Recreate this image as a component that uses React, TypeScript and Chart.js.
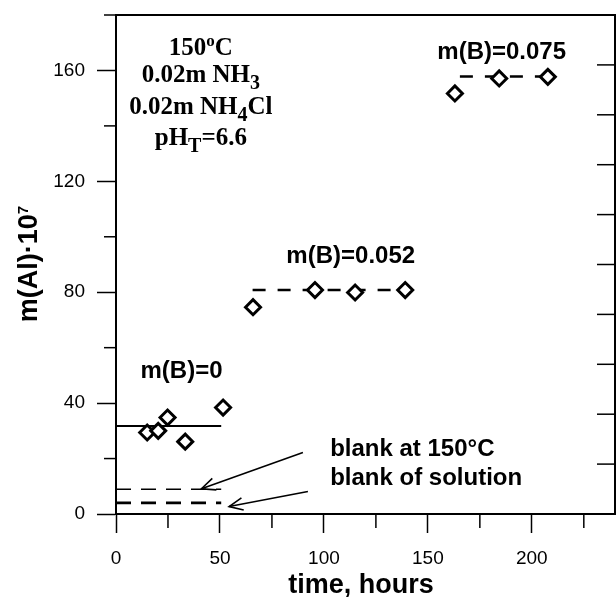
import React, { useEffect, useRef } from "react";
import { Chart, registerables } from "chart.js";

Chart.register(...registerables);

// ---- data (time in hours, m(Al)·10^7) ----
const groupZeroTime = [15, 20.3, 24.8, 33.3, 51.5];
const groupZeroAl = [29.4, 30.0, 34.8, 26.1, 38.4];
const group052Time = [65.9, 95.7, 115, 139.1];
const group052Al = [74.6, 80.8, 79.9, 80.8];
const group075Time = [163, 184.3, 207.7];
const group075Al = [151.7, 157.1, 157.7];

const meanZeroTime = [0, 50.6];
const meanZeroAl = [31.7, 31.7];
const blank150Time = [0, 50.6];
const blank150Al = [8.9, 8.9];
const blankSolTime = [0, 50.6];
const blankSolAl = [4.0, 4.0];
const mean052Time = [65.7, 142];
const mean052Al = [80.8, 80.8];
const mean075Time = [165.4, 208];
const mean075Al = [157.8, 157.8];

const arrow150From = [89.9, 22.2];
const arrow150To = [41.1, 9.1];
const arrowSolFrom = [92.3, 8.1];
const arrowSolTo = [54.4, 2.7];

const xTicks = [0, 50, 100, 150, 200];
const xMinorTicks = [25, 75, 125, 175, 225];
const yTicks = [0, 40, 80, 120, 160];
const yMinorTicks = [20, 60, 100, 140, 180];
const rightTicks = [1, 2, 3, 4, 5, 6, 7, 8, 9];

const xTitle = "time, hours";
const yTitleMain = "m(Al)·10";
const yTitleSup = "7";

const pts = (xs: number[], ys: number[]) => xs.map((x, i) => ({ x, y: ys[i] }));

const SANS = '"Liberation Sans", Arial, sans-serif';
const SERIF = '"Liberation Serif", "Times New Roman", serif';

type Seg = { text: string; mode?: "sub" | "sup" };

function drawRich(
  ctx: CanvasRenderingContext2D,
  segs: Seg[],
  cx: number,
  baseline: number,
  baseFont: string,
  smallFont: string,
  subDy: number,
  supDy: number
) {
  const widths: number[] = [];
  let total = 0;
  segs.forEach((s) => {
    ctx.font = s.mode ? smallFont : baseFont;
    const w = ctx.measureText(s.text).width;
    widths.push(w);
    total += w;
  });
  let x = cx - total / 2;
  ctx.textAlign = "left";
  ctx.textBaseline = "alphabetic";
  segs.forEach((s, i) => {
    ctx.font = s.mode ? smallFont : baseFont;
    const dy = s.mode === "sub" ? subDy : s.mode === "sup" ? supDy : 0;
    ctx.fillText(s.text, x, baseline + dy);
    x += widths[i];
  });
}

const zeroPad = (s: any) => {
  s.paddingTop = 0;
  s.paddingBottom = 0;
  s.paddingLeft = 0;
  s.paddingRight = 0;
};

const decorPlugin = {
  id: "decor",
  afterDraw(chart: any) {
    const ctx: CanvasRenderingContext2D = chart.ctx;
    const xs = chart.scales.x;
    const ys = chart.scales.y;
    const y2 = chart.scales.y2;
    const ca = chart.chartArea;
    const line = (x1: number, y1: number, x2: number, y2_: number) => {
      ctx.beginPath();
      ctx.moveTo(x1, y1);
      ctx.lineTo(x2, y2_);
      ctx.stroke();
    };
    ctx.save();
    ctx.strokeStyle = "#000";
    ctx.fillStyle = "#000";
    ctx.lineCap = "butt";

    // top frame
    ctx.lineWidth = 2;
    line(ca.left, ca.top, ca.right + 1, ca.top);

    // minor ticks
    ctx.lineWidth = 1.5;
    xMinorTicks.forEach((v) => {
      const px = xs.getPixelForValue(v);
      line(px, ca.bottom, px, ca.bottom + 14);
    });
    yMinorTicks.forEach((v) => {
      const py = ys.getPixelForValue(v);
      line(ca.left - 12, py, ca.left, py);
    });
    rightTicks.forEach((v) => {
      const py = y2.getPixelForValue(v);
      line(ca.right - 18, py, ca.right, py);
    });

    // arrows
    const arrow = (from: number[], to: number[]) => {
      const x1 = xs.getPixelForValue(from[0]);
      const y1 = ys.getPixelForValue(from[1]);
      const x2 = xs.getPixelForValue(to[0]);
      const yy2 = ys.getPixelForValue(to[1]);
      ctx.lineWidth = 1.6;
      line(x1, y1, x2, yy2);
      const ang = Math.atan2(yy2 - y1, x2 - x1);
      const hl = 15;
      const spread = (24 * Math.PI) / 180;
      ctx.beginPath();
      ctx.moveTo(x2 - hl * Math.cos(ang - spread), yy2 - hl * Math.sin(ang - spread));
      ctx.lineTo(x2, yy2);
      ctx.lineTo(x2 - hl * Math.cos(ang + spread), yy2 - hl * Math.sin(ang + spread));
      ctx.stroke();
    };
    arrow(arrow150From, arrow150To);
    arrow(arrowSolFrom, arrowSolTo);

    // annotation texts
    const bold = `bold 24px ${SANS}`;
    ctx.font = bold;
    ctx.textBaseline = "alphabetic";
    ctx.textAlign = "center";
    ctx.fillText("m(B)=0", xs.getPixelForValue(31.5), ys.getPixelForValue(49.0));
    ctx.fillText("m(B)=0.052", xs.getPixelForValue(112.9), ys.getPixelForValue(90.5));
    ctx.fillText("m(B)=0.075", xs.getPixelForValue(185.5), ys.getPixelForValue(164.3));
    ctx.textAlign = "left";
    ctx.fillText("blank at 150°C", xs.getPixelForValue(103), ys.getPixelForValue(20.8));
    ctx.fillText("blank of solution", xs.getPixelForValue(103), ys.getPixelForValue(10.6));

    // conditions block (serif)
    const sf = `bold 25px ${SERIF}`;
    const ssf = `bold 20px ${SERIF}`;
    const cx = xs.getPixelForValue(40.8);
    drawRich(ctx, [{ text: "150" }, { text: "o", mode: "sup" }, { text: "C" }], cx, ys.getPixelForValue(165.5), sf, `bold 17px ${SERIF}`, 7, -9);
    drawRich(ctx, [{ text: "0.02m NH" }, { text: "3", mode: "sub" }], cx, ys.getPixelForValue(155.9), sf, ssf, 7, -9);
    drawRich(ctx, [{ text: "0.02m NH" }, { text: "4", mode: "sub" }, { text: "Cl" }], cx, ys.getPixelForValue(144.3), sf, ssf, 7, -9);
    drawRich(ctx, [{ text: "pH" }, { text: "T", mode: "sub" }, { text: "=6.6" }], cx, ys.getPixelForValue(133.1), sf, ssf, 7, -9);

    // axis titles
    ctx.font = `bold 27px ${SANS}`;
    ctx.textAlign = "center";
    ctx.fillText(xTitle, 361, 593);

    ctx.save();
    ctx.translate(37, 264);
    ctx.rotate(-Math.PI / 2);
    drawRich(ctx, [{ text: yTitleMain }, { text: yTitleSup, mode: "sup" }], 0, 0, `bold 27px ${SANS}`, `bold 15px ${SANS}`, 0, -9);
    ctx.restore();

    ctx.restore();
  },
};

export default function App() {
  const ref = useRef<HTMLCanvasElement | null>(null);
  useEffect(() => {
    if (!ref.current) return;
    const diamond = {
      showLine: false,
      pointStyle: "rectRot" as const,
      pointRadius: 7.5,
      pointBorderWidth: 3,
      pointBackgroundColor: "#fff",
      pointBorderColor: "#000",
      borderColor: "#000",
      backgroundColor: "#fff",
    };
    const seg = (data: any, dash: number[], width: number) => ({
      data,
      showLine: true,
      pointRadius: 0,
      borderColor: "#000",
      borderWidth: width,
      borderDash: dash,
      fill: false,
      tension: 0,
    });
    const chart = new Chart(ref.current, {
      type: "scatter",
      data: {
        datasets: [
          { ...diamond, data: pts(groupZeroTime, groupZeroAl) },
          { ...diamond, data: pts(group052Time, group052Al) },
          { ...diamond, data: pts(group075Time, group075Al) },
          seg(pts(meanZeroTime, meanZeroAl), [], 2),
          seg(pts(blank150Time, blank150Al), [15, 10], 1.5),
          seg(pts(blankSolTime, blankSolAl), [15, 10], 2.6),
          seg(pts(mean052Time, mean052Al), [13, 12], 2.6),
          seg(pts(mean075Time, mean075Al), [13, 12], 2.6),
        ] as any,
      },
      options: {
        responsive: false,
        animation: false,
        devicePixelRatio: 1,
        layout: { autoPadding: false, padding: { top: 15, left: 0, right: 0, bottom: 0 } },
        plugins: { legend: { display: false }, tooltip: { enabled: false } },
        scales: {
          x: {
            type: "linear",
            position: "bottom",
            min: 0,
            max: 240,
            afterBuildTicks: (s: any) => {
              s.ticks = xTicks.map((v) => ({ value: v }));
            },
            afterFit: (s: any) => {
              s.height = 83;
              zeroPad(s);
            },
            ticks: {
              color: "#000",
              font: { family: SANS, size: 19 },
              padding: 14,
              maxRotation: 0,
              autoSkip: false,
            },
            grid: {
              display: true,
              drawOnChartArea: false,
              drawTicks: true,
              tickLength: 19,
              tickColor: "#000",
              tickWidth: 1.5,
              color: "#000",
            },
            border: { display: true, color: "#000", width: 2 },
          },
          y: {
            type: "linear",
            position: "left",
            min: 0,
            max: 180,
            afterBuildTicks: (s: any) => {
              s.ticks = yTicks.map((v) => ({ value: v }));
            },
            afterFit: (s: any) => {
              s.width = 116;
              zeroPad(s);
            },
            ticks: {
              color: "#000",
              font: { family: SANS, size: 19 },
              padding: 12,
              autoSkip: false,
            },
            grid: {
              display: true,
              drawOnChartArea: false,
              drawTicks: true,
              tickLength: 19,
              tickColor: "#000",
              tickWidth: 1.5,
              color: "#000",
            },
            border: { display: true, color: "#000", width: 2 },
          },
          y2: {
            type: "linear",
            position: "right",
            min: 0,
            max: 10,
            ticks: { display: false },
            grid: { display: false, drawTicks: false },
            afterFit: (s: any) => {
              s.width = 1;
              zeroPad(s);
            },
            border: { display: true, color: "#000", width: 2 },
          },
        },
      } as any,
      plugins: [decorPlugin],
    });
    return () => chart.destroy();
  }, []);
  return (
    <div style={{ position: "absolute", left: 0, top: 0, width: 616, height: 597, background: "#fff" }}>
      <canvas ref={ref} width={616} height={597} style={{ display: "block" }} />
    </div>
  );
}
